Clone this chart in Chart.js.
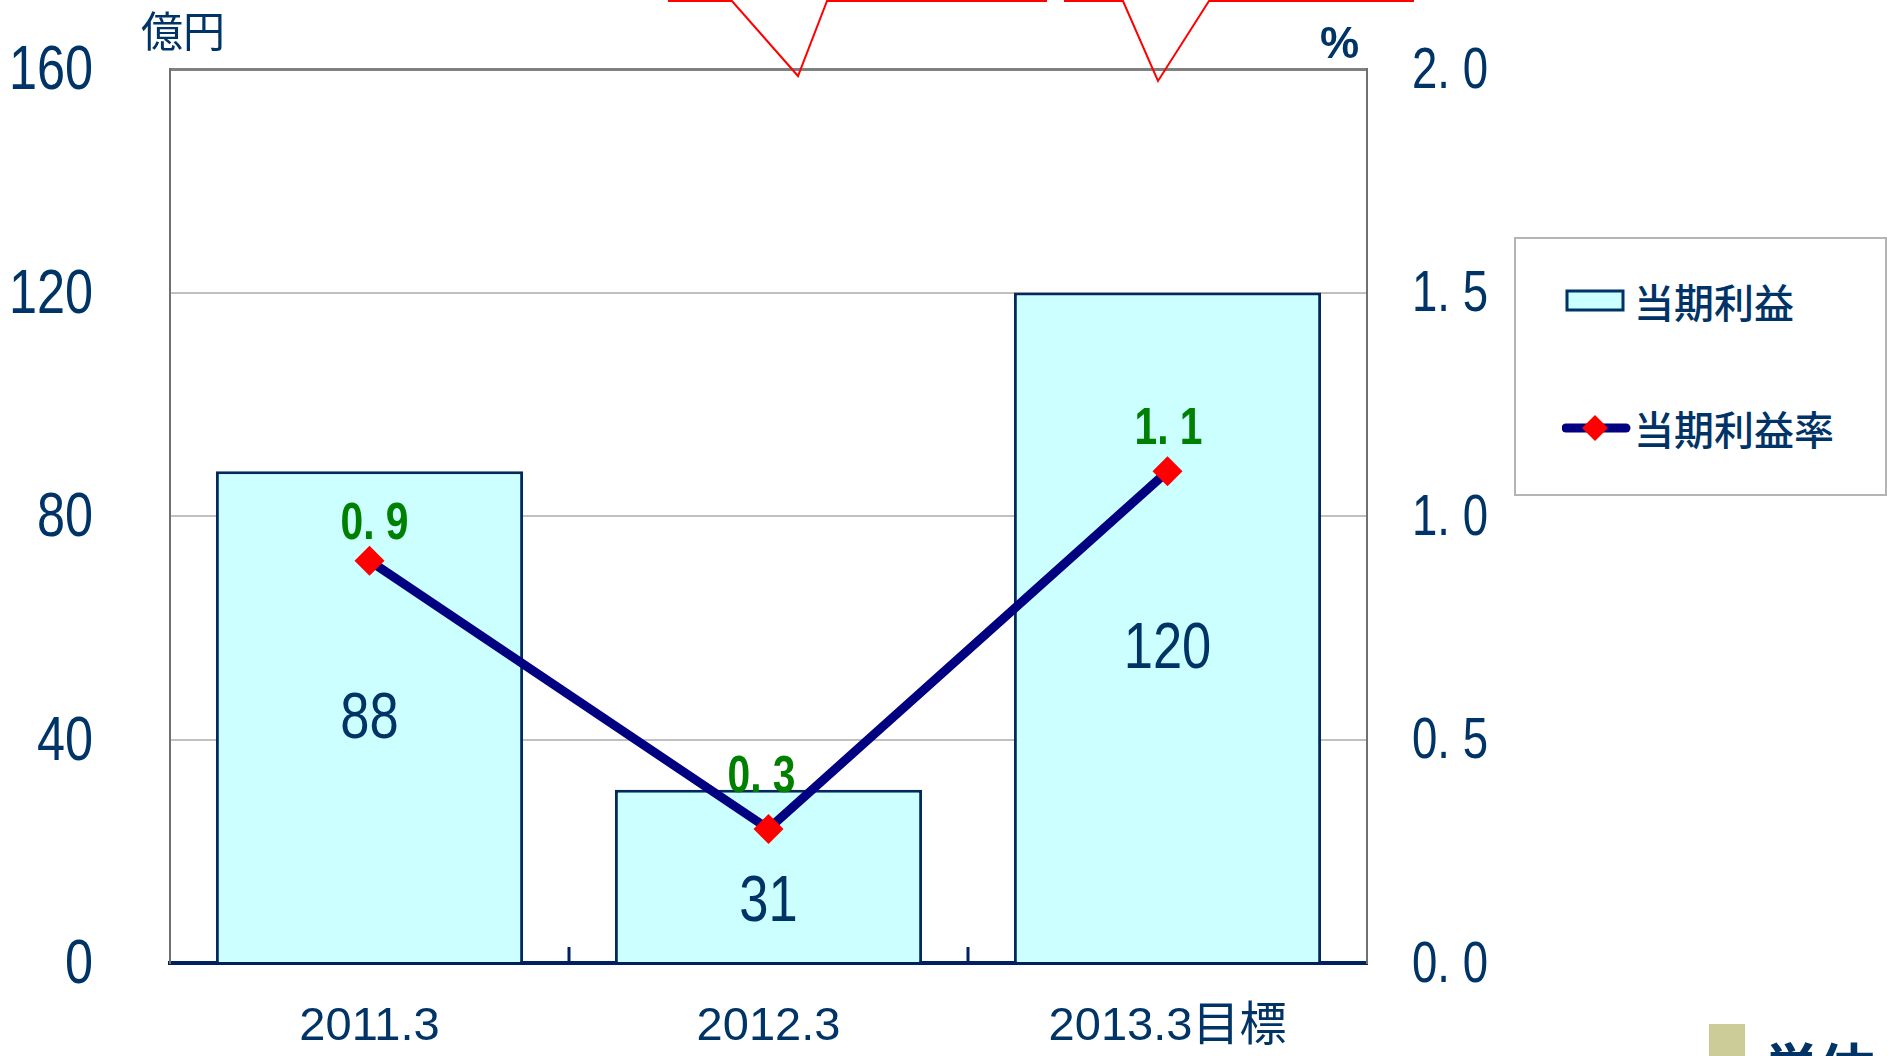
<!DOCTYPE html>
<html>
<head>
<meta charset="utf-8">
<script src="https://cdn.jsdelivr.net/npm/chart.js@4"></script>
<style>
  body { margin: 0; background: #fff; overflow: hidden; }
  #wrap { position: relative; width: 1887px; height: 1056px; }
  .txt { position: absolute; color: #003366; white-space: nowrap; line-height: 1; }
  #legend { position: absolute; left: 1514px; top: 237px; width: 369px; height: 255px; border: 2px solid #b4b4b4; background: #fff; }
  .item { position: absolute; left: 46px; height: 44px; display: flex; align-items: center; font: 500 40px "Noto Sans CJK JP", sans-serif; color: #003366; }
</style>
</head>
<body>
<div id="wrap">
  <canvas id="profitChart"></canvas>
  <div class="txt" style="left:141px;top:-2px;font:42px 'Noto Sans CJK JP',sans-serif;">億円</div>
  <div class="txt" style="left:1320px;top:18px;font:bold 44px 'Liberation Sans',sans-serif;">%</div>
  <svg style="position:absolute;left:0;top:0" width="1887" height="120">
    <polyline points="668,1 732,1 798,76 827,1 1047,1" fill="none" stroke="#ff0000" stroke-width="2"/>
    <polyline points="1064,1 1123,1 1158,81 1209,1 1414,1" fill="none" stroke="#ff0000" stroke-width="2"/>
  </svg>
  <div id="legend">
    <div class="item" style="top:40px;">
      <svg width="66" height="26" style="margin-right:6px"><rect x="5" y="3" width="56" height="19" fill="#ccffff" stroke="#003366" stroke-width="3"/></svg>当期利益
    </div>
    <div class="item" style="top:167px;">
      <svg width="70" height="32" style="margin-right:2px"><line x1="4" y1="16" x2="64" y2="16" stroke="#000080" stroke-width="9" stroke-linecap="round"/><polygon points="33,3 46,16 33,29 20,16" fill="#ff0000"/></svg>当期利益率
    </div>
  </div>
  <div style="position:absolute;left:1709px;top:1024px;width:36px;height:40px;background:#cccc99;"></div>
  <div class="txt" style="left:1763px;top:1025px;font:bold 56px 'Noto Sans CJK JP',sans-serif;">単体</div>
</div>
<script>
const categories = ['2011.3', '2012.3', '2013.3目標'];
const profit = [88, 31, 120];          // 当期利益 (億円)
const profitRate = [0.9, 0.3, 1.1];    // 当期利益率 (%)
const leftTicks = [0, 40, 80, 120, 160];
const rightTicks = [0, 0.5, 1.0, 1.5, 2.0];

// label nudges (px)
const profitLabelDrop = [3, 27, 23];
const rateLabelLift = [36, 51, 41];
const rateLabelShift = [5, -7, 1];

const sans = '"Liberation Sans", sans-serif';
const navy = '#003366';

function fmtRate(v) {
    return v.toFixed(1).replace('.', '. ');
}

// the original uses a narrow face; squeeze Liberation Sans horizontally
function narrowText(ctx, text, x, y, align, font, sx) {
    ctx.save();
    ctx.translate(x, y);
    ctx.scale(sx, 1);
    ctx.font = font + ' ' + sans;
    ctx.textAlign = align;
    ctx.textBaseline = 'middle';
    ctx.fillText(text, 0, 0);
    ctx.restore();
}

const labelPlugin = {
    id: 'labels',
    afterDatasetsDraw(chart) {
        const ctx = chart.ctx;
        const x = chart.scales.x;
        const y = chart.scales.y;
        const y1 = chart.scales.y1;
        const area = chart.chartArea;
        ctx.save();
        // small ticks at category boundaries (pointing up into the plot)
        ctx.strokeStyle = '#002060';
        ctx.lineWidth = 3;
        for (let i = 1; i < categories.length; i++) {
            const bx = (x.getPixelForValue(i - 1) + x.getPixelForValue(i)) / 2;
            ctx.beginPath();
            ctx.moveTo(bx, area.bottom);
            ctx.lineTo(bx, area.bottom - 16);
            ctx.stroke();
        }
        // axis tick labels
        ctx.fillStyle = navy;
        y.ticks.forEach(t => {
            narrowText(ctx, String(t.value), area.left - 77, y.getPixelForValue(t.value) + 3, 'right', '63px', 0.8);
        });
        y1.ticks.forEach(t => {
            narrowText(ctx, fmtRate(t.value), area.right + 45, y1.getPixelForValue(t.value) + 3, 'left', '57px', 0.8);
        });
        // bar values
        profit.forEach((v, i) => {
            narrowText(ctx, String(v), x.getPixelForValue(i), y.getPixelForValue(v / 2) + profitLabelDrop[i], 'center', '64px', 0.82);
        });
        // rate values
        ctx.fillStyle = '#008000';
        profitRate.forEach((v, i) => {
            narrowText(ctx, fmtRate(v), x.getPixelForValue(i) + rateLabelShift[i], y1.getPixelForValue(v) - rateLabelLift[i], 'center', 'bold 51px', 0.8);
        });
        ctx.restore();
    }
};

const ctx = document.getElementById('profitChart').getContext('2d');
const profitChart = new Chart(ctx, {
    data: {
        labels: categories,
        datasets: [{
            type: 'line',
            label: '当期利益率',
            data: profitRate,
            yAxisID: 'y1',
            borderColor: '#000080',
            borderWidth: 9,
            pointStyle: 'rectRot',
            pointRadius: 15,
            pointBackgroundColor: '#ff0000',
            pointBorderColor: '#ff0000',
            pointBorderWidth: 0,
            tension: 0,
            order: 0
        }, {
            type: 'bar',
            label: '当期利益',
            data: profit,
            yAxisID: 'y',
            backgroundColor: '#ccffff',
            borderColor: '#002a5c',
            borderWidth: 3,
            barPercentage: 0.77,
            categoryPercentage: 1,
            order: 1
        }]
    },
    options: {
        responsive: true,
        maintainAspectRatio: false,
        animation: false,
        layout: {
            autoPadding: false,
            padding: { top: 69, left: 0, right: 0, bottom: 0 }
        },
        plugins: {
            legend: { display: false },
            tooltip: { enabled: false }
        },
        scales: {
            x: {
                grid: { display: false },
                border: { color: '#002060', width: 4 },
                ticks: {
                    color: navy,
                    font: { family: '"Liberation Sans", "Noto Sans CJK JP", sans-serif', size: 47 },
                    padding: 28,
                    maxRotation: 0
                },
                afterFit: function (scale) { scale.height = 93; }
            },
            y: {
                position: 'left',
                min: 0,
                max: 160,
                afterBuildTicks: function (scale) {
                    scale.ticks = leftTicks.map(v => ({ value: v }));
                },
                grid: {
                    drawTicks: false,
                    color: function (c) { return c.tick && c.tick.value === 160 ? '#808080' : '#c0c0c0'; },
                    lineWidth: function (c) { return c.tick && c.tick.value === 160 ? 3 : 2; }
                },
                border: { color: '#707070', width: 2 },
                ticks: { display: false },
                afterFit: function (scale) { scale.width = 170; }
            },
            y1: {
                position: 'right',
                min: 0,
                max: 2,
                afterBuildTicks: function (scale) {
                    scale.ticks = rightTicks.map(v => ({ value: v }));
                },
                grid: { display: false, drawTicks: false },
                border: { color: '#707070', width: 2 },
                ticks: { display: false },
                afterFit: function (scale) { scale.width = 520; }
            }
        }
    },
    plugins: [labelPlugin]
});
</script>
</body>
</html>
